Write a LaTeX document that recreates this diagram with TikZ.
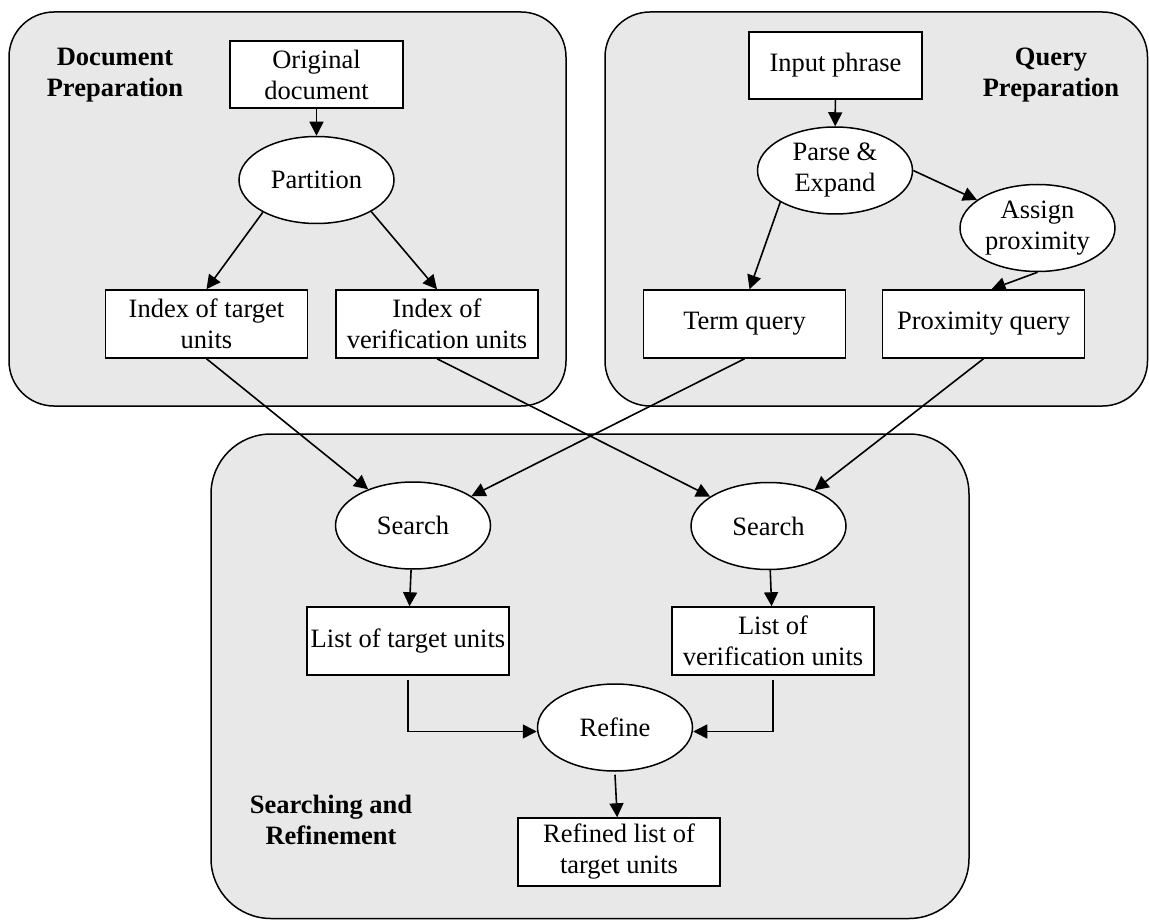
\documentclass[tikz,border=0pt]{standalone}
\usepackage{fontspec}
\setmainfont{Liberation Serif}
\usetikzlibrary{arrows.meta,shapes.geometric}
\definecolor{panel}{RGB}{232,232,232}
\begin{document}
\begin{tikzpicture}[x=1pt,y=-1pt,
  every node/.style={font=\fontsize{26.5}{31}\selectfont},
  proc/.style={draw, line width=1.5pt, fill=white, rectangle, minimum width=202pt, minimum height=68pt, inner sep=0pt, align=center},
  oval/.style={draw, line width=1.5pt, fill=white, ellipse, minimum width=155pt, minimum height=87pt, inner sep=0pt, align=center},
  title/.style={font=\fontsize{26.5}{31}\selectfont\bfseries, align=center, inner sep=0pt},
  panelbox/.style={draw, line width=1.5pt, fill=panel},
  conn/.style={line width=1.6pt, -{Triangle[length=14pt,width=14pt]}}
]
\useasboundingbox (0,0) rectangle (1149,920);

% panels
\draw[panelbox, rounded corners=45pt] (9,12) rectangle (566,406);
\draw[panelbox, rounded corners=45pt] (605,12) rectangle (1147.5,406);
\draw[panelbox, rounded corners=60pt] (211,434) rectangle (969,918.5);

% document preparation
\node[title] (tdoc) at (115,75) {Document\\Preparation};
\node[proc, minimum width=173pt, minimum height=67pt] (orig) at (316.5,74.5) {Original\\document};
\node[oval] (part) at (316.5,180) {Partition};
\node[proc] (idxt) at (206.5,324) {Index of target\\units};
\node[proc] (idxv) at (437,324) {Index of\\verification units};

% query preparation
\node[title] (tquery) at (1051,75) {Query\\Preparation};
\node[proc, minimum width=173pt, minimum height=67pt] (input) at (835.5,65.5) {Input phrase};
\node[oval] (parse) at (835,170.5) {Parse \&\\Expand};
\node[oval] (assign) at (1037.5,228) {Assign\\proximity};
\node[proc] (term) at (744.5,324) {Term query};
\node[proc] (prox) at (983.5,324) {Proximity query};

% searching and refinement
\node[title] (tsearch) at (331,820) {Searching and\\Refinement};
\node[oval] (s1) at (413,525.5) {Search};
\node[oval] (s2) at (768.5,526) {Search};
\node[proc] (listt) at (408,641) {List of target units};
\node[proc] (listv) at (773,641) {List of\\verification units};
\node[oval] (refine) at (615,727.5) {Refine};
\node[proc] (refined) at (619,852) {Refined list of\\target units};

% connectors
\draw[conn] (orig) -- (part);
\draw[conn] (part.211) -- (idxt.north);
\draw[conn] (part.330) -- (idxv.north);
\draw[conn] (input) -- (parse);
\draw[conn] (parse.210) -- ([xshift=5pt]term.north);
\draw[conn] (parse.east) -- (assign);
\draw[conn] (assign.south) -- ([xshift=8pt]prox.north);
\draw[conn] (idxt.south) -- (s1);
\draw[conn] (idxv.south) -- (s2);
\draw[conn] (term.south) -- (s1);
\draw[conn] (prox.south) -- (s2);
\draw[conn] (s1) -- (listt);
\draw[conn] (s2) -- (listv);
\draw[conn] ([yshift=-4pt]listt.south) |- ([yshift=-4pt]refine.west);
\draw[conn] ([yshift=-4pt]listv.south) |- ([yshift=-4pt]refine.east);
\draw[conn] ([yshift=-3pt]refine.south) -- (refined);
\end{tikzpicture}
\end{document}
